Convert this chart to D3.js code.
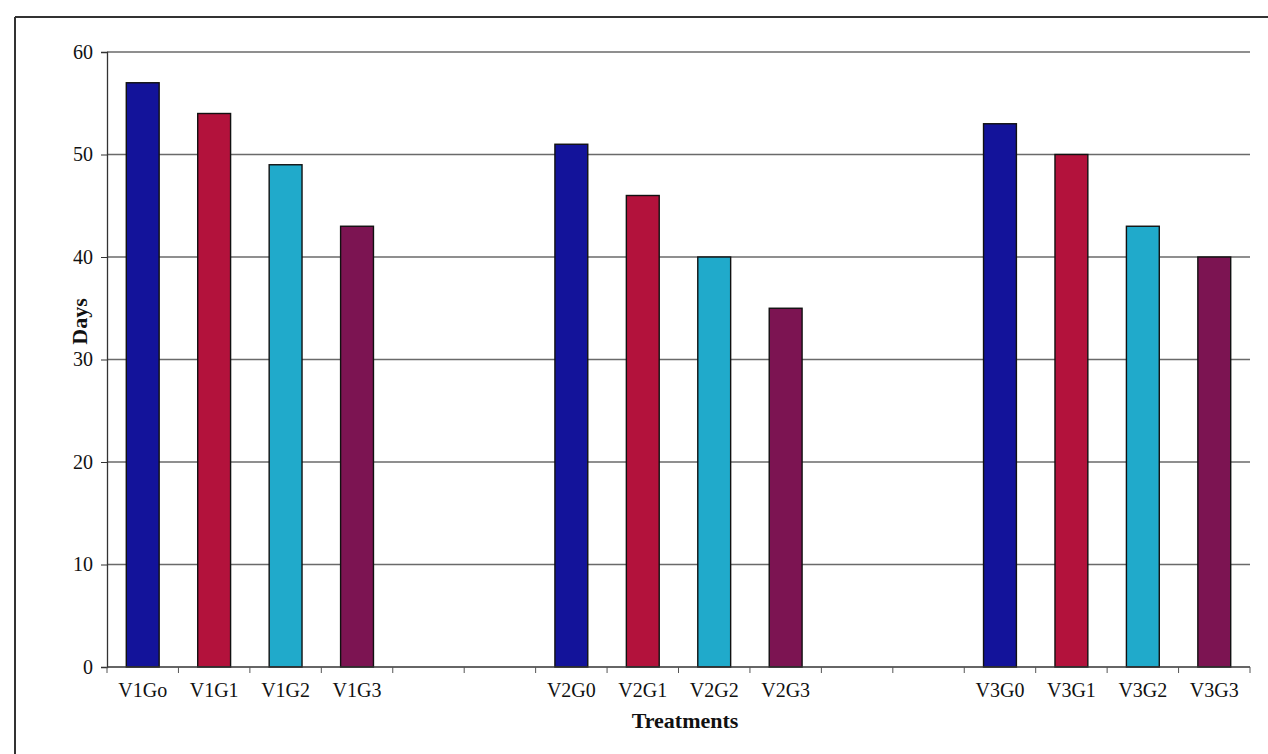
<!DOCTYPE html>
<html>
<head>
<meta charset="utf-8">
<script src="https://cdn.jsdelivr.net/npm/d3@7"></script>
<style>
  html, body { margin: 0; padding: 0; background: #fff; }
  svg { display: block; }
  text { font-family: "Liberation Serif", "Times New Roman", serif; fill: #111; }
</style>
</head>
<body>
<svg id="chart" width="1268" height="754"></svg>
<script>
// Treatment slots along the x axis; empty strings are the gaps between varieties
const treatments = ["V1Go", "V1G1", "V1G2", "V1G3", "", "",
                    "V2G0", "V2G1", "V2G2", "V2G3", "", "",
                    "V3G0", "V3G1", "V3G2", "V3G3"];
// Days for each slot (null = gap)
const days = [57, 54, 49, 43, null, null,
              51, 46, 40, 35, null, null,
              53, 50, 43, 40];
// Fill per G level (G0..G3)
const levelColors = ["#13139a", "#b3123c", "#20aacb", "#7c1452"];
const yTicks = [0, 10, 20, 30, 40, 50, 60];

const svg = d3.select("#chart");
const W = 1268, H = 754;
const plot = { left: 107, right: 1250, top: 52, bottom: 667 };

// Outer frame
svg.append("line").attr("x1", 15).attr("y1", 17).attr("x2", W).attr("y2", 17)
  .attr("stroke", "#333").attr("stroke-width", 2);
svg.append("line").attr("x1", 15).attr("y1", 17).attr("x2", 15).attr("y2", H)
  .attr("stroke", "#333").attr("stroke-width", 2);

const x = d3.scaleBand()
  .domain(d3.range(treatments.length))
  .range([plot.left, plot.right])
  .paddingInner(0).paddingOuter(0);

const y = d3.scaleLinear().domain([0, 60]).range([plot.bottom, plot.top]);

// Horizontal gridlines
svg.append("g").selectAll("line")
  .data(yTicks.filter(t => t > 0))
  .join("line")
  .attr("x1", plot.left).attr("x2", plot.right)
  .attr("y1", d => y(d)).attr("y2", d => y(d))
  .attr("stroke", "#6a6a6a").attr("stroke-width", 1.3);

// Bars
const barW = x.bandwidth() * 0.46;
const barData = treatments.map((t, i) => ({ i, label: t, value: days[i] }))
  .filter(d => d.value !== null)
  .map((d, k) => ({ ...d, level: k % 4 }));

svg.append("g").selectAll("rect")
  .data(barData)
  .join("rect")
  .attr("x", d => x(d.i) + (x.bandwidth() - barW) / 2)
  .attr("y", d => y(d.value))
  .attr("width", barW)
  .attr("height", d => y(0) - y(d.value))
  .attr("fill", d => levelColors[d.level])
  .attr("stroke", "#111").attr("stroke-width", 1.4);

// Y axis
const yAxis = d3.axisLeft(y).tickValues(yTicks).tickSize(6).tickPadding(8).tickFormat(d3.format("d"));
const gy = svg.append("g").attr("transform", `translate(${plot.left},0)`).call(yAxis);
gy.select(".domain").attr("stroke", "#333").attr("stroke-width", 1.3);
gy.selectAll(".tick line").attr("stroke", "#333");
gy.selectAll(".tick text").attr("font-size", 20).attr("fill", "#111")
  .style("font-family", "Liberation Serif, serif");

// X axis: ticks at slot boundaries
const gx = svg.append("g").attr("transform", `translate(0,${plot.bottom})`);
gx.append("line").attr("x1", plot.left).attr("x2", plot.right)
  .attr("stroke", "#333").attr("stroke-width", 1.3);
gx.selectAll("line.tick")
  .data(d3.range(treatments.length + 1))
  .join("line").attr("class", "tick")
  .attr("x1", i => plot.left + i * x.step()).attr("x2", i => plot.left + i * x.step())
  .attr("y1", 0).attr("y2", 6)
  .attr("stroke", "#555");
gx.selectAll("text")
  .data(treatments.map((t, i) => ({ t, i })).filter(d => d.t))
  .join("text")
  .attr("x", d => x(d.i) + x.bandwidth() / 2)
  .attr("y", 30)
  .attr("text-anchor", "middle")
  .attr("font-size", 20)
  .text(d => d.t);

// Axis titles
svg.append("text")
  .attr("x", 685)
  .attr("y", 728)
  .attr("text-anchor", "middle")
  .attr("font-size", 22).attr("font-weight", "bold")
  .text("Treatments");

svg.append("text")
  .attr("transform", `translate(87,${(plot.top + plot.bottom) / 2 - 38}) rotate(-90)`)
  .attr("text-anchor", "middle")
  .attr("font-size", 22).attr("font-weight", "bold")
  .text("Days");
</script>
</body>
</html>
